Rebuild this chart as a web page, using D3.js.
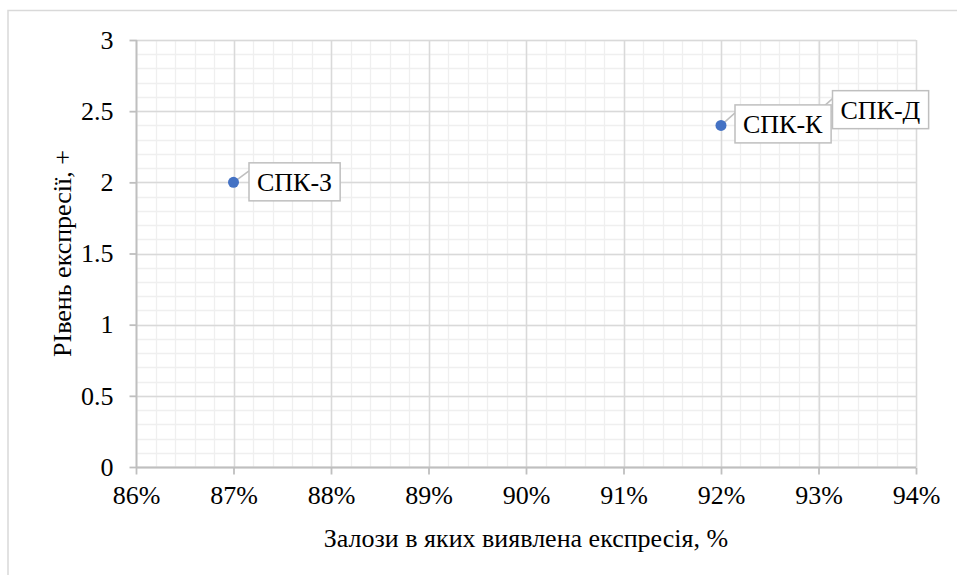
<!DOCTYPE html>
<html>
<head>
<meta charset="utf-8">
<script src="https://cdn.jsdelivr.net/npm/d3@7"></script>
<style>
  body { margin: 0; background: #fff; }
</style>
</head>
<body>
<svg id="chart" width="957" height="575"></svg>
<script>
// data
const names = ["СПК-З", "СПК-К", "СПК-Д"]
const glands = [0.87, 0.92, 0.93]   // x, share of glands
const levels = [2.0, 2.4, 2.5]      // y, expression level
const xTicks = [0.86, 0.87, 0.88, 0.89, 0.90, 0.91, 0.92, 0.93, 0.94]
const yTicks = [0, 0.5, 1, 1.5, 2, 2.5, 3]
const xTitle = "Залози в яких виявлена експресія, %"
const yTitle = "РІвень експресії, +"

const FONT = "Liberation Serif"
const FS = 26
const W = 957, H = 575
const m = {left: 136, right: 957 - 916, top: 40, bottom: 575 - 467}
const svg = d3.select("#chart")

// outer chart border (runs off the right/bottom of the picture)
svg.append("rect")
    .attr("x", 8).attr("y", 10.5)
    .attr("width", W).attr("height", H)
    .attr("fill", "none").attr("stroke", "#d9d9d9").attr("stroke-width", 1.5)

const x = d3.scaleLinear().domain([0.86, 0.94]).range([m.left, W - m.right])
const y = d3.scaleLinear().domain([0, 3]).range([H - m.bottom, m.top])

const g = svg.append("g")

// minor grid
const xMinor = d3.range(0, 41).map(i => 0.86 + i * 0.002)
const yMinor = d3.range(0, 31).map(i => i * 0.1)
g.append("g").selectAll("line").data(xMinor).join("line")
    .attr("x1", d => Math.round(x(d)) + 0.5).attr("x2", d => Math.round(x(d)) + 0.5)
    .attr("y1", y(0)).attr("y2", y(3))
    .attr("stroke", "#efefef").attr("stroke-width", 1.3)
g.append("g").selectAll("line").data(yMinor).join("line")
    .attr("y1", d => Math.round(y(d)) + 0.5).attr("y2", d => Math.round(y(d)) + 0.5)
    .attr("x1", x(0.86)).attr("x2", x(0.94))
    .attr("stroke", "#efefef").attr("stroke-width", 1.3)

// major grid
g.append("g").selectAll("line").data(xTicks).join("line")
    .attr("x1", d => Math.round(x(d)) + 0.5).attr("x2", d => Math.round(x(d)) + 0.5)
    .attr("y1", y(0)).attr("y2", y(3))
    .attr("stroke", "#d9d9d9").attr("stroke-width", 1.5)
g.append("g").selectAll("line").data(yTicks).join("line")
    .attr("y1", d => Math.round(y(d)) + 0.5).attr("y2", d => Math.round(y(d)) + 0.5)
    .attr("x1", x(0.86)).attr("x2", x(0.94))
    .attr("stroke", "#d9d9d9").attr("stroke-width", 1.5)

// axes
const xAxis = g.append("g")
    .attr("transform", `translate(0,${Math.round(y(0)) + 0.5})`)
    .call(d3.axisBottom(x).tickValues(xTicks).tickFormat(d3.format(".0%")).tickSize(7).tickPadding(11))
const yAxis = g.append("g")
    .attr("transform", `translate(${Math.round(x(0.86)) + 0.5},0)`)
    .call(d3.axisLeft(y).tickValues(yTicks).tickFormat(d => d).tickSize(7).tickPadding(16))

for (const ax of [xAxis, yAxis]) {
    ax.attr("font-family", FONT).attr("font-size", FS)
    ax.select(".domain").attr("stroke", "#bfbfbf").attr("stroke-width", 1.8)
    ax.selectAll(".tick line").attr("stroke", "#bfbfbf").attr("stroke-width", 1.8)
    ax.selectAll(".tick text").attr("fill", "#000")
}
xAxis.select(".domain").attr("d", `M${x(0.86)},0H${x(0.94)}`)
yAxis.select(".domain").attr("d", `M0,${y(0)}V${y(3)}`)

// axis titles
svg.append("text")
    .attr("x", (x(0.86) + x(0.94)) / 2).attr("y", 547)
    .attr("text-anchor", "middle")
    .attr("font-family", FONT).attr("font-size", FS)
    .text(xTitle)
svg.append("text")
    .attr("transform", `translate(71,${(y(0) + y(3)) / 2}) rotate(-90)`)
    .attr("text-anchor", "middle")
    .attr("font-family", FONT).attr("font-size", FS)
    .text(yTitle)

const pts = names.map((n, i) => ({name: n, gx: glands[i], lv: levels[i]}))

// callout labels: box left/top relative to its point
const labelOffsets = [[15.5, -19.5], [14, -20.5], [14, -20.5]]

// leader lines
g.append("g").selectAll("line").data(pts).join("line")
    .attr("x1", d => x(d.gx)).attr("y1", d => y(d.lv))
    .attr("x2", (d, i) => x(d.gx) + labelOffsets[i][0])
    .attr("y2", (d, i) => y(d.lv) + labelOffsets[i][1] + 8)
    .attr("stroke", "#bfbfbf").attr("stroke-width", 1.5)

// points
g.append("g").selectAll("circle").data(pts).join("circle")
    .attr("cx", d => x(d.gx)).attr("cy", d => y(d.lv))
    .attr("r", 5.5).attr("fill", "#4472c4")

const lab = g.append("g").selectAll("g").data(pts).join("g")
    .attr("transform", d => `translate(${x(d.gx)},${y(d.lv)})`)

lab.each(function(d, i) {
    const el = d3.select(this)
    const [bx, by] = labelOffsets[i]
    const t = el.append("text")
        .attr("x", bx + 8).attr("y", by + 28)
        .attr("font-family", FONT).attr("font-size", FS)
        .text(d.name)
    const bw = t.node().getBBox().width + 16, bh = 38
    el.insert("rect", "text")
        .attr("x", bx).attr("y", by)
        .attr("width", bw).attr("height", bh)
        .attr("fill", "#fff").attr("stroke", "#bfbfbf").attr("stroke-width", 1.5)
})
</script>
</body>
</html>
